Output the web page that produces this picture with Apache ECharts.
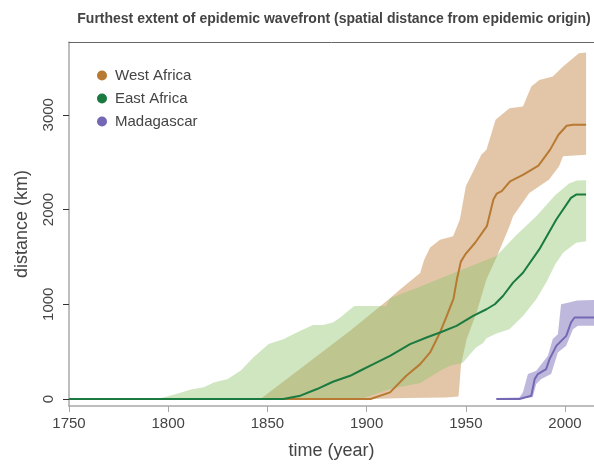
<!DOCTYPE html>
<html>
<head>
<meta charset="utf-8">
<script src="https://cdn.jsdelivr.net/npm/echarts@6/dist/echarts.min.js"></script>
<style>
html,body{margin:0;padding:0;background:#fff;}
#chart{width:594px;height:465px;}
</style>
</head>
<body>
<div id="chart"></div>
<script>
// ---------- data (year, km) ----------
const seriesNames = ['West Africa', 'East Africa', 'Madagascar'];
const xTicks = [1750, 1800, 1850, 1900, 1950, 2000];
const yTicks = [0, 1000, 2000, 3000];

const westMedian = [[1846,0],[1902,0],[1911.8,70],[1920,245],[1927,368],[1932,491],[1937,702],[1940.4,877],[1943.8,1060],[1945.5,1263],[1947.5,1450],[1949.7,1526],[1954.7,1649],[1960.6,1824],[1963.9,2105],[1965.6,2168],[1968.1,2193],[1972.3,2298],[1979,2368],[1986.6,2463],[1992.5,2632],[1996.7,2789],[2000.8,2884],[2004,2895],[2010.6,2895]];
const westUpper = [[1846.5,0],[1891.7,719],[1911.8,1063],[1917,1158],[1927,1330],[1929,1470],[1932,1600],[1937,1680],[1943.6,1719],[1947,1895],[1950,2245],[1955,2456],[1957.8,2579],[1960.4,2632],[1965,2947],[1972,3070],[1978.8,3088],[1983,3298],[1987,3368],[1993.8,3403],[1999,3509],[2007,3649],[2010.6,3656]];
const westLower = [[1846.5,0],[1900,0],[1920,10],[1940,15],[1946.3,25],[1947,200],[1947.5,350],[1950.4,630],[1955.4,912],[1960.4,1263],[1965.4,1490],[1972,1824],[1973.8,1930],[1982,2175],[1992,2316],[1997,2456],[1999,2561],[2010.6,2579]];

const eastMedian = [[1750,0],[1858,0],[1866.6,35],[1875,105],[1883,182],[1891.7,245],[1896.7,298],[1903.4,368],[1911.8,456],[1921.9,579],[1930.2,649],[1937,702],[1945.3,772],[1953.7,877],[1960.4,947],[1964.6,1000],[1968.7,1087],[1973.8,1228],[1978.8,1333],[1987,1579],[1995.6,1895],[2003,2123],[2005.6,2158],[2010.6,2158]];
const eastUpper = [[1794.6,0],[1804,53],[1811.5,100],[1818,123],[1823,175],[1830,210],[1836.6,300],[1843,440],[1850.6,580],[1858,630],[1866.6,720],[1873,780],[1878,780],[1883,807],[1886.7,860],[1893.4,975],[1894.5,982],[1910,982],[1911.8,1063],[1925,1170],[1938,1280],[1950,1380],[1965.4,1509],[1975,1720],[1985.5,1930],[1995,2150],[2002,2274],[2006,2305],[2010.6,2309]];
const eastLower = [[1794.6,0],[1897,0],[1901.8,35],[1911.8,105],[1927,168],[1937,298],[1942,350],[1946,368],[1948.6,386],[1952,470],[1955,540],[1958.7,590],[1960.4,640],[1965.4,690],[1972,737],[1978.8,877],[1985.5,1053],[1990.8,1240],[1995,1420],[1999,1544],[2005.6,1649],[2010.6,1666]];

const madaMedian = [[1965.4,0],[1977,0],[1983,35],[1984.7,210],[1986.3,263],[1990.5,316],[1992.2,421],[1995.6,561],[2000.6,666],[2003,807],[2004.8,860],[2014.6,860]];
const madaUpper = [[1965.4,10],[1977,15],[1978.8,70],[1981.3,263],[1985.5,298],[1991.4,456],[1993.8,632],[1996.4,684],[1998,1000],[2002,1018],[2006,1040],[2014.6,1045]];
const madaLower = [[1965.4,-8],[1983.7,18],[1985.5,158],[1988,210],[1993,263],[1996.4,491],[2000.6,561],[2004,737],[2006.5,772],[2014.6,772]];

// ---------- styles ----------
const FONT = '"Liberation Sans", Arial, Helvetica, sans-serif';
const lineColors = ['#b87a33', '#1a7a40', '#7468b4'];
const bandColors = ['rgba(183,112,35,0.40)', 'rgba(140,195,107,0.42)', 'rgba(110,97,179,0.45)'];

function band(name, upper, lower, color) {
  const pts = upper.concat(lower.slice().reverse());
  return {
    type: 'custom', name: name + ' band', silent: true,
    data: [[pts[0][0], pts[0][1]]],
    renderItem: function (params, api) {
      return { type: 'polygon', shape: { points: pts.map(p => api.coord(p)) }, style: { fill: color } };
    }
  };
}
function line(name, data, color) {
  return {
    type: 'line', name: name, data: data, symbol: 'none', smooth: false,
    lineStyle: { color: color, width: 2 }, itemStyle: { color: color }, silent: true
  };
}
const plain = v => String(v);

const chart = echarts.init(document.getElementById('chart'), null, { renderer: 'canvas' });
chart.setOption({
  animation: false,
  backgroundColor: '#fff',
  title: {
    text: 'Furthest extent of epidemic wavefront (spatial distance from epidemic origin)',
    left: 329, top: 7, textAlign: 'center',
    textStyle: { fontFamily: FONT, fontSize: 14, fontWeight: 'bold', color: '#444' }
  },
  legend: {
    data: seriesNames, orient: 'vertical', left: 92, top: 63, itemGap: 8,
    icon: 'circle', itemWidth: 16, itemHeight: 10,
    textStyle: { fontFamily: FONT, fontSize: 15, color: '#444' }
  },
  grid: { left: 69, right: 0, top: 42, bottom: 58, containLabel: false },
  xAxis: [{
    type: 'value', min: 1750, max: 2014.6,
    name: 'time (year)', nameLocation: 'middle', nameGap: 36,
    nameTextStyle: { fontFamily: FONT, fontSize: 18, color: '#444' },
    axisLine: { show: true, onZero: false, lineStyle: { color: '#a8a8a8', width: 1.5 } },
    axisTick: { show: true, length: 6, customValues: xTicks, lineStyle: { color: '#a8a8a8', width: 1 } },
    axisLabel: { customValues: xTicks, formatter: plain, margin: 10, fontFamily: FONT, fontSize: 15, color: '#444' },
    splitLine: { show: false }
  }, {
    type: 'value', min: 1750, max: 2014.6, position: 'top',
    axisLine: { show: true, onZero: false, lineStyle: { color: '#666', width: 1 } },
    axisTick: { show: false }, axisLabel: { show: false }, splitLine: { show: false }
  }],
  yAxis: {
    type: 'value', min: -74, max: 3768,
    name: 'distance (km)', nameLocation: 'middle', nameGap: 38,
    nameTextStyle: { fontFamily: FONT, fontSize: 18, color: '#444' },
    axisLine: { show: true, onZero: false, lineStyle: { color: '#a8a8a8', width: 1.5 } },
    axisTick: { show: true, length: 6, customValues: yTicks, lineStyle: { color: '#333', width: 1 } },
    axisLabel: { customValues: yTicks, formatter: plain, rotate: 90, margin: 13, fontFamily: FONT, fontSize: 15, color: '#444' },
    splitLine: { show: false }
  },
  series: [
    band('West Africa', westUpper, westLower, bandColors[0]),
    line('West Africa', westMedian, lineColors[0]),
    band('East Africa', eastUpper, eastLower, bandColors[1]),
    line('East Africa', eastMedian, lineColors[1]),
    band('Madagascar', madaUpper, madaLower, bandColors[2]),
    line('Madagascar', madaMedian, lineColors[2])
  ]
});
</script>
</body>
</html>
